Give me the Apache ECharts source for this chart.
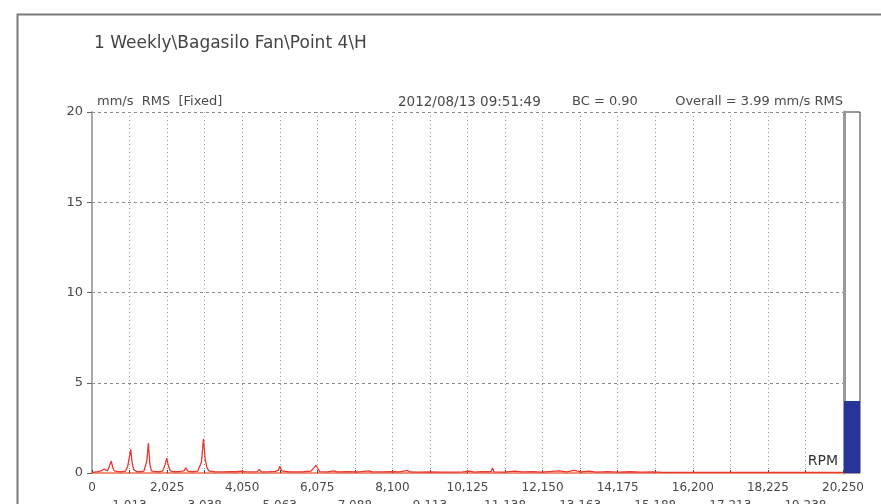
<!DOCTYPE html>
<html>
<head>
<meta charset="utf-8">
<script src="https://cdn.jsdelivr.net/npm/echarts@6/dist/echarts.min.js"></script>
<style>
  html, body { margin: 0; padding: 0; background: #fff; }
  #chart { width: 881px; height: 504px; }
</style>
</head>
<body>
<div id="chart"></div>
<script>
// Vibration spectrum: frequency in RPM vs. amplitude in mm/s RMS
const rpm = [
  0, 60, 150, 250, 330, 370, 420, 470, 521, 560, 600, 700, 800, 900, 960, 1000,
  1045, 1080, 1120, 1200, 1300, 1400, 1480, 1521, 1560, 1600, 1700, 1800, 1900,
  1970, 2016, 2060, 2110, 2200, 2350, 2480, 2529, 2580, 2700, 2850, 2950, 3006,
  3050, 3100, 3150, 3300, 3500, 3700, 3900, 4010, 4059, 4110, 4300, 4460, 4509,
  4560, 4750, 4950, 5020, 5067, 5110, 5300, 5500, 5700, 5900, 5990, 6039, 6090,
  6140, 6350, 6534, 6600, 6900, 7200, 7479, 7550, 7800, 8050, 8300, 8505, 8570,
  8800, 9100, 9400, 9700, 10000, 10200, 10300, 10500, 10760, 10800, 10840, 11100, 11400,
  11600, 11900, 12100, 12400, 12600, 12800, 13000, 13200, 13400, 13600, 13900,
  14200, 14500, 14800, 15100, 15400, 16000, 17000, 18000, 19000, 20250
];
const amplitude = [
  0.02, 0.05, 0.08, 0.12, 0.22, 0.24, 0.12, 0.2, 0.66, 0.3, 0.12, 0.08, 0.07, 0.1, 0.35, 0.8,
  1.31, 0.6, 0.2, 0.08, 0.07, 0.1, 0.7, 1.66, 0.5, 0.12, 0.08, 0.07, 0.1,
  0.45, 0.83, 0.4, 0.12, 0.07, 0.08, 0.12, 0.28, 0.1, 0.07, 0.1, 0.6, 1.9,
  0.8, 0.3, 0.12, 0.07, 0.06, 0.08, 0.07, 0.1, 0.16, 0.08, 0.06, 0.08, 0.2,
  0.07, 0.06, 0.09, 0.15, 0.37, 0.12, 0.07, 0.06, 0.07, 0.1, 0.3, 0.43, 0.25,
  0.08, 0.06, 0.12, 0.06, 0.07, 0.06, 0.12, 0.06, 0.06, 0.07, 0.06, 0.15, 0.06,
  0.05, 0.06, 0.05, 0.05, 0.06, 0.1, 0.05, 0.08, 0.07, 0.28, 0.06, 0.05, 0.1,
  0.06, 0.08, 0.05, 0.09, 0.12, 0.06, 0.14, 0.06, 0.1, 0.05, 0.08,
  0.05, 0.07, 0.05, 0.06, 0.04, 0.04, 0.04, 0.04, 0.04, 0.04
];

const chartTitle = '1 Weekly\\Bagasilo Fan\\Point 4\\H';
const unitsLabel = 'mm/s  RMS  [Fixed]';
const timestamp = '2012/08/13 09:51:49';
const bcLabel = 'BC = 0.90';
const overallValue = 3.99;
const overallLabel = 'Overall = ' + overallValue.toFixed(2) + ' mm/s RMS';

const xMax = 20250;
const xStep = 1012.5;
const yMax = 20;
const yStep = 5;

const font = 'DejaVu Sans';
const textColor = '#4a4a4a';

function fmtRpm(v) {
  return Math.round(v).toLocaleString('en-US');
}
function isOddStep(v) {
  return Math.round(v / xStep) % 2 === 1;
}

const chart = echarts.init(document.getElementById('chart'), null, { renderer: 'canvas' });

chart.setOption({
  animation: false,
  backgroundColor: '#fff',
  textStyle: { fontFamily: font },
  grid: [
    { left: 92, right: 38, top: 112, bottom: 31, containLabel: false, outerBoundsMode: 'none' },
    { left: 844, width: 16, top: 112, bottom: 31, show: true, outerBoundsMode: 'none',
      borderColor: '#333', borderWidth: 1, backgroundColor: '#fff' }
  ],
  xAxis: [
    {
      type: 'value', gridIndex: 0, min: 0, max: xMax, interval: xStep,
      axisLine: { show: true, lineStyle: { color: '#f2907e', width: 2 } },
      axisTick: { show: true, inside: true, length: 3, lineStyle: { color: '#444' } },
      splitLine: { show: true, lineStyle: { color: '#9a9a9a', type: [1, 3], width: 1 } },
      axisLabel: {
        color: textColor, fontFamily: font, fontSize: 12, margin: 9,
        showMaxLabel: true, showMinLabel: true, hideOverlap: false,
        formatter: function (v) { return isOddStep(v) ? '' : fmtRpm(v); }
      }
    },
    { type: 'category', gridIndex: 1, data: ['overall'], show: false },
    // second row of frequency labels, at the odd grid lines
    {
      type: 'value', gridIndex: 0, min: 0, max: xMax, interval: xStep,
      position: 'bottom', offset: 18,
      axisLine: { show: false }, axisTick: { show: false }, splitLine: { show: false },
      axisLabel: {
        color: textColor, fontFamily: font, fontSize: 12, margin: 9,
        showMaxLabel: true, showMinLabel: true, hideOverlap: false,
        formatter: function (v) { return isOddStep(v) ? fmtRpm(v) : ''; }
      }
    }
  ],
  yAxis: [
    {
      type: 'value', gridIndex: 0, min: 0, max: yMax, interval: yStep,
      axisLine: { show: true, lineStyle: { color: '#a8a8a8', width: 2 } },
      axisTick: { show: true, length: 5, lineStyle: { color: '#666' } },
      splitLine: { show: true, lineStyle: { color: '#8a8a8a', type: [3, 3], width: 1 } },
      axisLabel: { color: textColor, fontFamily: font, fontSize: 13, margin: 9 }
    },
    {
      type: 'value', gridIndex: 1, min: 0, max: yMax,
      axisLine: { show: true, onZero: false, lineStyle: { color: '#9a9a9a', width: 3 } },
      axisTick: { show: false }, axisLabel: { show: false }, splitLine: { show: false }
    }
  ],
  series: [
    {
      type: 'line', xAxisIndex: 0, yAxisIndex: 0,
      data: rpm.map((r, i) => [r, amplitude[i]]),
      showSymbol: false, symbol: 'none',
      lineStyle: { color: '#e8392e', width: 1.3 },
      z: 5
    },
    {
      type: 'bar', xAxisIndex: 1, yAxisIndex: 1,
      data: [overallValue], barWidth: '100%',
      itemStyle: { color: '#27359a' },
      silent: true
    }
  ],
  graphic: [
    { type: 'rect', left: 15, top: 12, shape: { width: 900, height: 520 },
      style: { fill: 'none', stroke: '#7a7a7a', lineWidth: 2 }, z: 0 },
    { type: 'text', left: 94, top: 35,
      style: { text: chartTitle, fontFamily: font, fontSize: 17, fill: '#444' } },
    { type: 'text', left: 97, top: 95,
      style: { text: unitsLabel, fontFamily: font, fontSize: 13, fill: textColor } },
    { type: 'text', left: 398, top: 95,
      style: { text: timestamp, fontFamily: font, fontSize: 13.5, fill: textColor } },
    { type: 'text', left: 572, top: 95,
      style: { text: bcLabel, fontFamily: font, fontSize: 13, fill: textColor } },
    { type: 'text', right: 38, top: 95,
      style: { text: overallLabel, fontFamily: font, fontSize: 13, fill: textColor } },
    { type: 'text', right: 43, top: 454,
      style: { text: 'RPM', fontFamily: font, fontSize: 14, fill: '#333' } }
  ]
});
</script>
</body>
</html>
